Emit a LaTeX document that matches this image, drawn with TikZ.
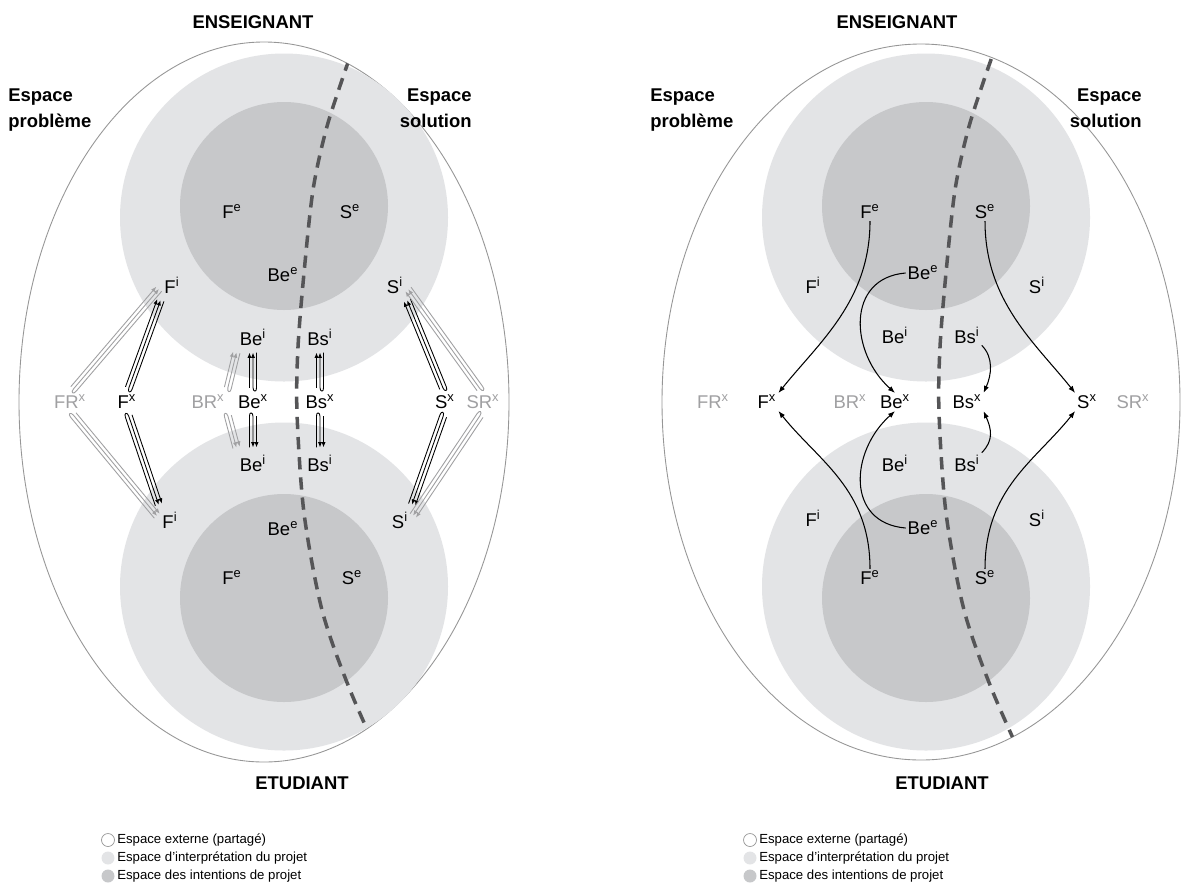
\documentclass[tikz,border=0pt]{standalone}
\usepackage{fontspec}
\setmainfont{Liberation Sans}
\usepackage{tikz}
\usetikzlibrary{calc, arrows.meta, positioning}
\definecolor{spaceint}{RGB}{227,228,230}
\definecolor{spaceexp}{RGB}{199,200,202}
\definecolor{rimgray}{RGB}{150,150,150}
\definecolor{splitgray}{RGB}{85,85,87}
\definecolor{extgray}{RGB}{160,160,162}

% push-pull glyph: colour, from, to
\newcommand{\pushpull}[3]{%
  \coordinate (ppA) at ($(#2)!3pt!(#3)$);
  \coordinate (ppB) at ($(#3)!3pt!(#2)$);
  \coordinate (ppC) at ($(ppA)!2pt!-90:(ppB)$);
  \draw[#1, line width=0.5pt, -{Latex[length=3pt,width=2.4pt]}] ($(ppA)!2pt!90:(ppB)$) -- ($(ppB)!2pt!-90:(ppA)$);
  \draw[#1, line width=0.5pt, {Latex[length=3pt,width=2.4pt]}-] (ppB) -- (ppA)
    .. controls ($(ppA)!2.6pt!180:(ppB)$) and ($(ppC)!2.6pt!180:(ppB)$) .. (ppC)
    -- ($(ppB)!2pt!90:(ppA)$);
}

\begin{document}
\begin{tikzpicture}[x=0.02cm, y=0.02cm,
    lab/.style = {font=\fontsize{10.5}{12}\selectfont, inner sep=1pt},
    ext/.style = {lab, text=extgray},
    title/.style = {font=\fontsize{10.5}{12}\selectfont\bfseries, inner sep=0pt},
    legend/.style = {font=\fontsize{7.5}{9}\selectfont, anchor=west, inner sep=0pt},
    flow/.style = {draw=black, line width=0.6pt, -{Latex[length=4pt,width=3pt]}},
    rim/.style = {draw=rimgray, line width=0.5pt, fill=white},
    split/.style = {draw=splitgray, line width=2pt, dash pattern=on 7pt off 4.5pt},
    key/.style = {circle, minimum size=13*0.02cm, inner sep=0pt}
  ]
  \useasboundingbox (0,0) rectangle (1192,-893);

  % === Spaces ===
  \path[rim] (264,-402) ellipse [x radius=245, y radius=360];
  \path[rim] (921,-402) ellipse [x radius=259, y radius=358];
  \foreach \dx in {0,642} {
    \fill[spaceint] (284+\dx,-217.5) circle [radius=164];
    \fill[spaceint] (284+\dx,-586.5) circle [radius=164];
    \fill[spaceexp] (284+\dx,-206) circle [radius=104];
    \fill[spaceexp] (284+\dx,-598) circle [radius=104];
  }
  \begin{scope}
    \clip (264,-402) ellipse [x radius=245, y radius=360];
    \draw[split] plot[smooth] coordinates {(356,-40) (343,-77) (326,-130) (313,-190) (304,-273) (298,-347) (297,-413) (304,-513) (322,-610) (350,-690) (390,-780)};
  \end{scope}
  \begin{scope}
    \clip (921,-402) ellipse [x radius=259, y radius=358];
    \draw[split] plot[smooth] coordinates {(998,-40) (985,-77) (968,-130) (955,-190) (946,-273) (940,-347) (939,-413) (946,-513) (964,-610) (992,-690) (1032,-780)};
  \end{scope}

  % === Titles ===
  \node[title] (lTeach) at (253,-22) {ENSEIGNANT};
  \node[title] (lStud) at (302,-783) {ETUDIANT};
  \node[title, align=left, anchor=north west] (lProb) at (8,-88) {Espace\\[3pt]probl\`eme};
  \node[title, align=right, anchor=north east] (lSol) at (472,-88) {Espace\\[3pt]solution};
  \node[title] (rTeach) at (897,-22) {ENSEIGNANT};
  \node[title] (rStud) at (942,-783) {ETUDIANT};
  \node[title, align=left, anchor=north west] (rProb) at (650,-88) {Espace\\[3pt]probl\`eme};
  \node[title, align=right, anchor=north east] (rSol) at (1142,-88) {Espace\\[3pt]solution};

  % === Left: interpretation ===
  \node[lab] (lFe) at (232,-212) {F\textsuperscript{e}};
  \node[lab] (lSe) at (350,-212) {S\textsuperscript{e}};
  \node[lab] (lBee) at (283,-275) {Be\textsuperscript{e}};
  \node[lab] (lFi) at (172,-285) {F\textsuperscript{i}};
  \node[lab] (lSi) at (395,-285) {S\textsuperscript{i}};
  \node[lab] (lBei) at (253,-337) {Be\textsuperscript{i}};
  \node[lab] (lBsi) at (320,-337) {Bs\textsuperscript{i}};
  \node[ext] (lFRx) at (70,-402) {FR\textsuperscript{x}};
  \node[lab] (lFx) at (127,-402) {F\textsuperscript{x}};
  \node[ext] (lBRx) at (208,-402) {BR\textsuperscript{x}};
  \node[lab] (lBex) at (253,-402) {Be\textsuperscript{x}};
  \node[lab] (lBsx) at (320,-402) {Bs\textsuperscript{x}};
  \node[lab] (lSx) at (445,-402) {S\textsuperscript{x}};
  \node[ext] (lSRx) at (483,-402) {SR\textsuperscript{x}};
  \node[lab] (lBei2) at (253,-463) {Be\textsuperscript{i}};
  \node[lab] (lBsi2) at (320,-463) {Bs\textsuperscript{i}};
  \node[lab] (lFi2) at (170,-520) {F\textsuperscript{i}};
  \node[lab] (lSi2) at (400,-520) {S\textsuperscript{i}};
  \node[lab] (lBee2) at (283,-529) {Be\textsuperscript{e}};
  \node[lab] (lFe2) at (232,-578) {F\textsuperscript{e}};
  \node[lab] (lSe2) at (352,-578) {S\textsuperscript{e}};

  % teacher side
  \pushpull{extgray}{lFRx.north}{lFi.west}
  \pushpull{black}{lFx.north}{lFi.south west}
  \pushpull{extgray}{lBRx.north east}{lBei.south west}
  \pushpull{black}{lBex.north}{lBei.south}
  \pushpull{black}{lBsx.north}{lBsi.south}
  \pushpull{black}{lSx.north}{lSi.south east}
  \pushpull{extgray}{lSRx.north}{lSi.east}
  % student side
  \pushpull{extgray}{lFRx.south}{lFi2.west}
  \pushpull{black}{lFx.south}{lFi2.north west}
  \pushpull{extgray}{lBRx.south east}{lBei2.north west}
  \pushpull{black}{lBex.south}{lBei2.north}
  \pushpull{black}{lBsx.south}{lBsi2.north}
  \pushpull{black}{lSx.south}{lSi2.north east}
  \pushpull{extgray}{lSRx.south}{lSi2.east}

  % === Right: externalisation ===
  \node[lab] (rFe) at (870,-212) {F\textsuperscript{e}};
  \node[lab] (rSe) at (985,-212) {S\textsuperscript{e}};
  \node[lab] (rBee) at (923,-273) {Be\textsuperscript{e}};
  \node[lab] (rFi) at (813,-285) {F\textsuperscript{i}};
  \node[lab] (rSi) at (1037,-285) {S\textsuperscript{i}};
  \node[lab] (rBei) at (895,-335) {Be\textsuperscript{i}};
  \node[lab] (rBsi) at (967,-335) {Bs\textsuperscript{i}};
  \node[ext] (rFRx) at (713,-402) {FR\textsuperscript{x}};
  \node[lab] (rFx) at (767,-402) {F\textsuperscript{x}};
  \node[ext] (rBRx) at (850,-402) {BR\textsuperscript{x}};
  \node[lab] (rBex) at (895,-402) {Be\textsuperscript{x}};
  \node[lab] (rBsx) at (967,-402) {Bs\textsuperscript{x}};
  \node[lab] (rSx) at (1087,-402) {S\textsuperscript{x}};
  \node[ext] (rSRx) at (1133,-402) {SR\textsuperscript{x}};
  \node[lab] (rBei2) at (895,-463) {Be\textsuperscript{i}};
  \node[lab] (rBsi2) at (967,-463) {Bs\textsuperscript{i}};
  \node[lab] (rFi2) at (813,-518) {F\textsuperscript{i}};
  \node[lab] (rSi2) at (1037,-518) {S\textsuperscript{i}};
  \node[lab] (rBee2) at (923,-528) {Be\textsuperscript{e}};
  \node[lab] (rFe2) at (870,-578) {F\textsuperscript{e}};
  \node[lab] (rSe2) at (985,-578) {S\textsuperscript{e}};

  \draw[flow] (rFe.south) .. controls +(0,-80) and +(40,50) .. (rFx.north east);
  \draw[flow] (rFe2.north) .. controls +(0,80) and +(40,-50) .. (rFx.south east);
  \draw[flow] (rBee.west) .. controls +(-60,-5) and +(-45,40) .. (rBex.north);
  \draw[flow] (rBee2.west) .. controls +(-60,5) and +(-45,-40) .. (rBex.south);
  \draw[flow] (rSe.south) .. controls +(0,-80) and +(-40,50) .. (rSx.north west);
  \draw[flow] (rSe2.north) .. controls +(0,80) and +(-40,-50) .. (rSx.south west);
  \draw[flow] (rBsi.south east) .. controls +(12,-12) and +(8,18) .. (rBsx.north east);
  \draw[flow] (rBsi2.north east) .. controls +(12,12) and +(8,-18) .. (rBsx.south east);

  % === Legends ===
  \foreach \dx/\side in {0/l,642/r} {
    \node[key, draw=rimgray, line width=0.4pt, fill=white] (\side KeyA) at (108+\dx,-840) {};
    \node[key, fill=spaceint] (\side KeyB) at (108+\dx,-858) {};
    \node[key, fill=spaceexp] (\side KeyC) at (108+\dx,-876) {};
    \node[legend] at (117+\dx,-840) {Espace externe (partag\'e)};
    \node[legend] at (117+\dx,-858) {Espace d'interpr\'etation du projet};
    \node[legend] at (117+\dx,-876) {Espace des intentions de projet};
  }
\end{tikzpicture}
\end{document}
